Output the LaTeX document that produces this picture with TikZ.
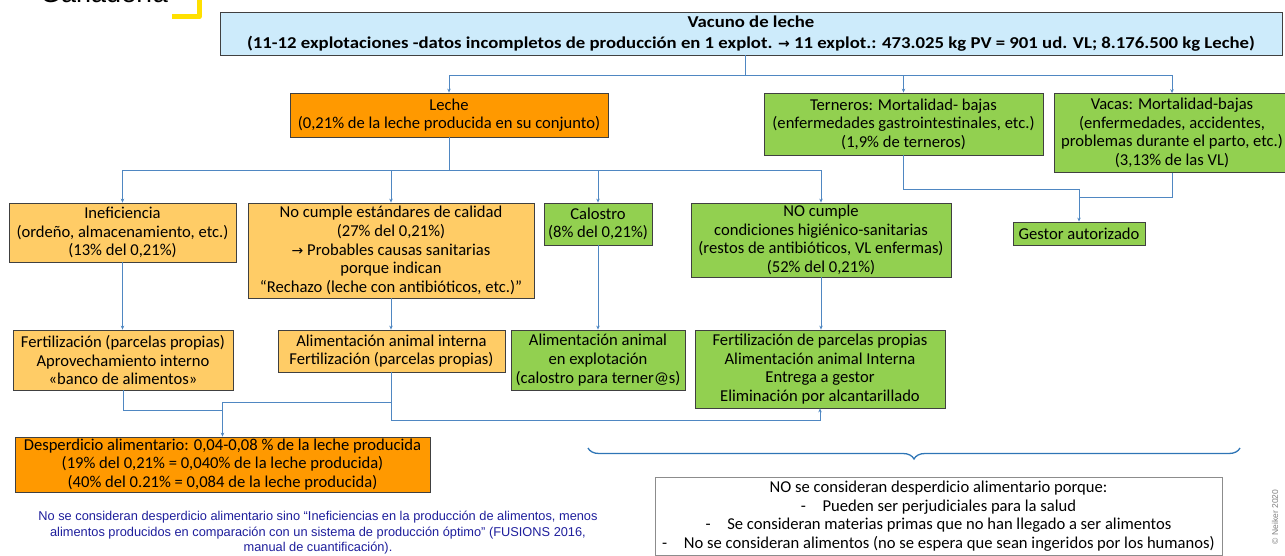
\documentclass[tikz,border=0pt]{standalone}
\usepackage{fontspec}
\setmainfont{Carlito}
\newfontfamily\topfont[FakeStretch=1.13]{Carlito}
\newfontfamily\arialf{Liberation Sans}
\newfontfamily\dejavu{DejaVu Sans}
\usetikzlibrary{arrows.meta,decorations.pathreplacing,calc}
\definecolor{boxgray}{HTML}{404040}
\definecolor{lightgray}{HTML}{8C8C8C}
\definecolor{connblue}{HTML}{4F87C2}
\definecolor{topblue}{HTML}{CDEBFB}
\definecolor{orangeA}{HTML}{FF9900}
\definecolor{orangeB}{HTML}{FFCC66}
\definecolor{greenA}{HTML}{92D050}
\definecolor{noteblue}{HTML}{1E1E9C}
\definecolor{yellowA}{HTML}{FFE000}
\definecolor{bracecol}{HTML}{2E75B6}
\tikzset{
  bx/.style={draw=boxgray, line width=0.8pt, align=center, inner sep=0pt,
    font=\fontsize{16.6}{18.6}\selectfont},
  conn/.style={draw=connblue, line width=0.8pt},
  arr/.style={conn, -{Stealth[length=4pt,width=3.5pt]}},
}
\begin{document}
\begin{tikzpicture}[x=1pt,y=-1pt]
\useasboundingbox (0,0) rectangle (1285,556);
% heading fragment
\node[font=\arialf\fontsize{27}{30}\selectfont, anchor=base west, inner sep=0pt] (ganad) at (40,3) {Ganadería};
\draw[yellowA, line width=5pt, line join=round] (199,-3) -- (199,17) -- (172,17);
% boxes
\node[bx, fill=topblue, minimum width=1062pt, minimum height=43pt, font=\topfont\bfseries\fontsize{16.6}{21}\selectfont] (top) at (751,33.5)
 {Vacuno de leche\\(11-12 explotaciones -datos incompletos de producción en 1 explot. {\dejavu\bfseries\fontsize{14}{15}\selectfont →} 11 explot.: 473.025 kg PV = 901 ud. VL; 8.176.500 kg Leche)};
\node[bx, fill=orangeA, minimum width=318pt, minimum height=44pt] (leche) at (449,115)
 {Leche\\(0,21\% de la leche producida en su conjunto)};
\node[bx, fill=greenA, minimum width=279pt, minimum height=62pt] (tern) at (903.5,124)
 {Terneros: Mortalidad- bajas\\(enfermedades gastrointestinales, etc.)\\(1,9\% de terneros)};
\node[bx, fill=greenA, minimum width=236pt, minimum height=79pt] (vacas) at (1172,133)
 {Vacas: Mortalidad-bajas\\(enfermedades, accidentes,\\problemas durante el parto, etc.)\\(3,13\% de las VL)};
\node[bx, fill=orangeB, minimum width=227pt, minimum height=59pt] (inef) at (122.5,232.5)
 {Ineficiencia\\(ordeño, almacenamiento, etc.)\\(13\% del 0,21\%)};
\node[bx, fill=orangeB, minimum width=286pt, minimum height=95pt] (nocal) at (391,250.5)
 {No cumple estándares de calidad\\(27\% del 0,21\%)\\{\dejavu\fontsize{14}{15}\selectfont →} Probables causas sanitarias\\porque indican\\“Rechazo (leche con antibióticos, etc.)”};
\node[bx, fill=greenA, minimum width=108pt, minimum height=42pt] (calos) at (598,224)
 {Calostro\\(8\% del 0,21\%)};
\node[bx, fill=greenA, minimum width=260pt, minimum height=74pt] (nohig) at (821,240)
 {NO cumple\\condiciones higiénico-sanitarias\\(restos de antibióticos, VL enfermas)\\(52\% del 0,21\%)};
\node[bx, fill=greenA, minimum width=132pt, minimum height=23pt] (gestor) at (1079,233.5)
 {Gestor autorizado};
\node[bx, fill=orangeB, minimum width=220pt, minimum height=60pt] (fert1) at (123,360)
 {Fertilización (parcelas propias)\\Aprovechamiento interno\\«banco de alimentos»};
\node[bx, fill=orangeB, minimum width=227pt, minimum height=42pt] (alim) at (391.5,351)
 {Alimentación animal interna\\Fertilización (parcelas propias)};
\node[bx, fill=greenA, minimum width=174pt, minimum height=60pt] (alimexp) at (598,360)
 {Alimentación animal\\en explotación\\(calostro para terner@s)};
\node[bx, fill=greenA, minimum width=250pt, minimum height=78pt] (fert2) at (820,369)
 {Fertilización de parcelas propias\\Alimentación animal Interna\\Entrega a gestor\\Eliminación por alcantarillado};
\node[bx, fill=orangeA, minimum width=415pt, minimum height=55pt] (desp) at (222.5,464.5)
 {Desperdicio alimentario: 0,04-0,08 \% de la leche producida\\(19\% del 0,21\% = 0,040\% de la leche producida)\\(40\% del 0.21\% = 0,084 de la leche producida)};
\node[bx, draw=lightgray, fill=white, minimum width=567pt, minimum height=78pt] (nocons) at (938.5,516)
 {NO se consideran desperdicio alimentario porque:\\-\quad Pueden ser perjudiciales para la salud\\-\quad Se consideran materias primas que no han llegado a ser alimentos\\-\quad No se consideran alimentos (no se espera que sean ingeridos por los humanos)};
% note text
\node[font=\arialf\fontsize{12.8}{15.5}\selectfont, text=noteblue, align=center, inner sep=0pt] (note) at (318,533)
 {No se consideran desperdicio alimentario sino “Ineficiencias en la producción de alimentos, menos\\alimentos producidos en comparación con un sistema de producción óptimo” (FUSIONS 2016,\\manual de cuantificación).};
\node[font=\arialf\fontsize{8.5}{9}\selectfont, text=gray, rotate=90, inner sep=0pt] (copy) at (1275,517) {© Neiker 2020};
% connectors
\coordinate (j1) at (745,75);
\draw[conn] (top.south -| j1) -- (j1);
\draw[arr] (j1) -| (leche.north);
\draw[arr] (j1) -| (tern.north);
\draw[arr] (j1) -| (vacas.north);
\coordinate (j2) at (449,170);
\draw[conn] (leche.south) -- (j2);
\draw[arr] (j2) -| (inef.north);
\draw[arr] (j2) -| (nocal.north);
\draw[arr] (j2) -| (calos.north);
\draw[arr] (j2) -| (nohig.north);
\coordinate (g1) at (1079,189);
\coordinate (g2) at (1079,197);
\draw[conn] (tern.south) |- (g1);
\draw[conn] (vacas.south) |- (g2);
\draw[arr] (g1) -- (gestor.north);
\draw[arr] (inef.south) -- (inef.south |- fert1.north);
\draw[arr] (nocal.south) -- (nocal.south |- alim.north);
\draw[arr] (calos.south) -- (calos.south |- alimexp.north);
\draw[arr] (nohig.south) -- (nohig.south |- fert2.north);
\coordinate (d1) at (222.5,410);
\coordinate (d2) at (222.5,402);
\coordinate (d3) at (391.5,420);
\draw[conn] (fert1.south) |- (d1);
\draw[arr] (alim.south) |- (d2) -- (desp.north);
\draw[arr] (alim.south) -- (d3) -| (fert2.south);
% brace
\draw[bracecol, line width=1.3pt, decorate, decoration={brace, mirror, amplitude=11pt}] (588,448) -- (1240,448);
\end{tikzpicture}
\end{document}
